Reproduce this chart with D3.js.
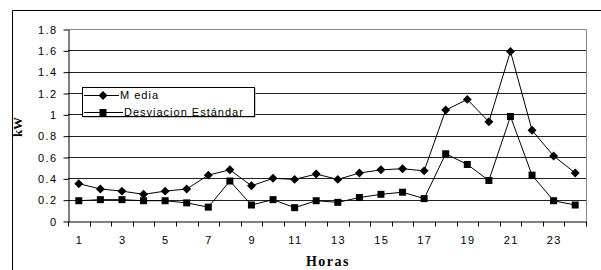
<!DOCTYPE html>
<html>
<head>
<meta charset="utf-8">
<script src="https://cdn.jsdelivr.net/npm/d3@7"></script>
<style>
  body { margin: 0; background: #fff; }
  svg { display: block; }
  .tick text { font-family: "Liberation Sans", Arial, sans-serif; font-size: 11px; letter-spacing: 1.4px; fill: #000; }
</style>
</head>
<body>
<div class="chart"></div>
<script>
// hours 1..24
var horas = d3.range(1, 25);

// Media (kW)
var media = [0.35, 0.30, 0.28, 0.25, 0.28, 0.30, 0.43, 0.48, 0.33, 0.40, 0.39, 0.44,
             0.39, 0.45, 0.48, 0.49, 0.47, 1.04, 1.14, 0.93, 1.59, 0.85, 0.61, 0.45];

// Desviacion Estandar (kW)
var desviacion = [0.19, 0.20, 0.20, 0.19, 0.19, 0.17, 0.13, 0.375, 0.15, 0.20, 0.125, 0.19,
                  0.175, 0.22, 0.25, 0.27, 0.21, 0.63, 0.53, 0.38, 0.98, 0.43, 0.19, 0.15];

var yTicks = [0, 0.2, 0.4, 0.6, 0.8, 1, 1.2, 1.4, 1.6, 1.8];
var xLabels = horas.filter(function (d) { return d % 2 === 1; });

var width = 601, height = 270;
var margin = { left: 68, right: 15, top: 29, bottom: 49 };

var svg = d3.select(".chart").append("svg")
  .attr("width", width)
  .attr("height", height);

// outer frame (only top and left visible in the picture)
svg.append("path")
  .attr("d", "M12.5," + height + "V10.5H" + width)
  .attr("fill", "none")
  .attr("stroke", "#000")
  .attr("stroke-width", 1);

var x = d3.scaleBand()
  .domain(horas)
  .range([margin.left, width - margin.right])
  .padding(0);

var y = d3.scaleLinear()
  .domain([0, 1.8])
  .range([height - margin.bottom, margin.top]);

var cx = function (d) { return x(d) + x.bandwidth() / 2; };

// square-ish diamond (rotated square) like the excel marker
var diamond = {
  draw: function (ctx, size) {
    var r = Math.sqrt(size / 2);
    ctx.moveTo(0, -r);
    ctx.lineTo(r, 0);
    ctx.lineTo(0, r);
    ctx.lineTo(-r, 0);
    ctx.closePath();
  }
};

// gridlines
svg.append("g")
  .selectAll("line")
  .data(yTicks.slice(1, -1))
  .enter()
  .append("line")
  .attr("x1", margin.left)
  .attr("x2", width - margin.right)
  .attr("y1", function (d) { return Math.round(y(d)) + 0.5; })
  .attr("y2", function (d) { return Math.round(y(d)) + 0.5; })
  .attr("stroke", "#222");

// plot area border top/right (gray)
svg.append("path")
  .attr("d", "M" + margin.left + "," + (Math.round(y(1.8)) + 0.5) +
             "H" + (Math.round(width - margin.right) + 0.5) +
             "V" + (Math.round(y(0)) + 0.5))
  .attr("fill", "none")
  .attr("stroke", "#888");

// y axis
var yAxis = svg.append("g")
  .attr("transform", "translate(" + (margin.left + 0.5) + ",0.5)")
  .call(d3.axisLeft(y).tickValues(yTicks).tickSize(5).tickSizeOuter(0)
    .tickFormat(function (d) { return String(d); }));
yAxis.select(".domain").attr("stroke", "#000");
yAxis.selectAll(".tick line").attr("stroke", "#000");
yAxis.selectAll(".tick text").attr("x", -11);

// x axis: labels on odd hours
var xAxis = svg.append("g")
  .attr("transform", "translate(0," + (Math.round(y(0)) + 0.5) + ")")
  .call(d3.axisBottom(x).tickValues(xLabels).tickSize(0).tickSizeOuter(0));
xAxis.select(".domain").attr("stroke", "#000");
xAxis.selectAll(".tick text").attr("dy", "0.71em").attr("y", 15).attr("dx", "0.7px");

// x tick marks between categories
var bounds = horas.map(function (d) { return x(d); }).concat([x(24) + x.bandwidth()]);
xAxis.append("g")
  .selectAll("line")
  .data(bounds)
  .enter()
  .append("line")
  .attr("x1", function (d) { return Math.round(d) + 0.5; })
  .attr("x2", function (d) { return Math.round(d) + 0.5; })
  .attr("y1", 0)
  .attr("y2", 5)
  .attr("stroke", "#000");

var line = d3.line()
  .x(function (d, i) { return cx(horas[i]); })
  .y(function (d) { return y(d); });

var series = [
  { name: "M edia", values: media, symbol: diamond, size: 40, lineEnd: 37 },
  { name: "Desviacion Estándar", values: desviacion, symbol: d3.symbolSquare, size: 49, lineEnd: 41 }
];

series.forEach(function (s) {
  svg.append("path")
    .datum(s.values)
    .attr("d", line)
    .attr("fill", "none")
    .attr("stroke", "#000")
    .attr("stroke-width", 1);

  svg.append("g")
    .selectAll("path")
    .data(s.values)
    .enter()
    .append("path")
    .attr("transform", function (d, i) { return "translate(" + cx(horas[i]) + "," + y(d) + ")"; })
    .attr("d", d3.symbol().type(s.symbol).size(s.size))
    .attr("fill", "#000");
});

// legend
var legend = svg.append("g").attr("transform", "translate(82,87)");
legend.append("rect")
  .attr("x", 1.5).attr("y", 1.5)
  .attr("width", 172).attr("height", 29)
  .attr("fill", "#999");
legend.append("rect")
  .attr("x", 0.5).attr("y", 0.5)
  .attr("width", 172).attr("height", 29)
  .attr("fill", "#fff")
  .attr("stroke", "#000");

series.forEach(function (s, i) {
  var ly = 8.5 + i * 17;
  legend.append("line")
    .attr("x1", 2).attr("x2", s.lineEnd)
    .attr("y1", ly).attr("y2", ly)
    .attr("stroke", "#000");
  legend.append("path")
    .attr("transform", "translate(21," + ly + ")")
    .attr("d", d3.symbol().type(s.symbol).size(s.size))
    .attr("fill", "#000");
  legend.append("text")
    .attr("x", s.lineEnd + 1)
    .attr("y", ly)
    .attr("dy", "0.35em")
    .style("font-family", "'Liberation Sans', Arial, sans-serif")
    .style("font-size", "11px")
    .style("letter-spacing", "1px")
    .text(s.name);
});

// axis titles
svg.append("text")
  .attr("transform", "translate(22," + (y(0.9) + 2) + ") rotate(-90)")
  .attr("text-anchor", "middle")
  .style("font-family", "'Liberation Serif', 'Times New Roman', serif")
  .style("font-weight", "bold")
  .style("font-size", "13px")
  .text("kW");

svg.append("text")
  .attr("x", 328)
  .attr("y", 266)
  .attr("text-anchor", "middle")
  .style("font-family", "'Liberation Serif', 'Times New Roman', serif")
  .style("font-weight", "bold")
  .style("font-size", "14px")
  .style("letter-spacing", "1.5px")
  .text("Horas");
</script>
</body>
</html>
